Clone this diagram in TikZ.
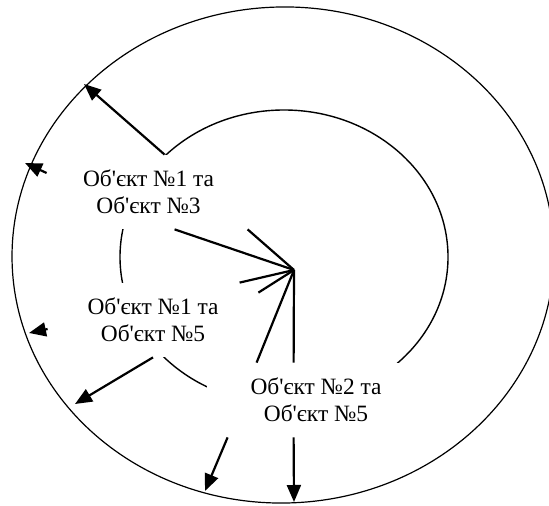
\documentclass[tikz,border=0pt]{standalone}
\usepackage{fontspec}
\setmainfont{Liberation Serif}[Ligatures=TeXOff]
\usetikzlibrary{arrows.meta}
\tikzset{
	pair box/.style = {fill = white, inner sep = 0pt, align = center, font = \fontsize{11.7}{13.5}\selectfont},
	link/.style = {line width = 1.1pt},
}
\begin{document}
\begin{tikzpicture}[x = 0.5pt, y = -0.5pt, > = {Triangle[length = 8.5pt, width = 7pt]}]
	\useasboundingbox (0,0) rectangle (549,506);
	\draw [line width = 0.6pt, rotate around = {2:(283,255)}] (283,255) ellipse [x radius = 271, y radius = 248];
	\draw [line width = 0.7pt] (284,257) ellipse [x radius = 164, y radius = 147];
	\coordinate (hub) at (294,270);
	\coordinate (rim a) at (84,84);
	\coordinate (rim b) at (25,163);
	\coordinate (rim c) at (29,333);
	\coordinate (rim d) at (75,404);
	\coordinate (rim e) at (205,491);
	\coordinate (rim f) at (294,502);
	\node [pair box, minimum width = 101.5pt, minimum height = 37pt] (obj13) at (148.5,192) {Об'єкт №1 та\\Об'єкт №3};
	\node [pair box, minimum width = 105pt, minimum height = 37pt] (obj15) at (153,320) {Об'єкт №1 та\\Об'єкт №5};
	\node [pair box, minimum width = 109pt, minimum height = 37pt] (obj25) at (316,400) {Об'єкт №2 та\\Об'єкт №5};
	\draw [link] ([xshift = 64pt]obj13.south west) -- (hub);
	\draw [link] ([xshift = 100.5pt]obj13.south west) -- (hub);
	\draw [link] ([xshift = 96pt]obj15.north west) -- (hub);
	\draw [link] ([yshift = -5pt]obj15.north east) -- (hub);
	\draw [link] ([xshift = 25pt]obj25.north west) -- (hub);
	\draw [link] (hub) -- ([xshift = 43.5pt]obj25.north west);
	\draw [link, ->] ([xshift = 59pt]obj13.north west) -- (rim a);
	\draw [link, ->] ([yshift = 9.5pt]obj13.west) -- (rim b);
	\draw [link, ->] ([yshift = -4.5pt]obj15.west) -- (rim c);
	\draw [link, ->] (obj15.south) -- (rim d);
	\draw [link, ->] ([xshift = 10.5pt]obj25.south west) -- (rim e);
	\draw [link, ->] ([xshift = 43.5pt]obj25.south west) -- (rim f);
\end{tikzpicture}
\end{document}
